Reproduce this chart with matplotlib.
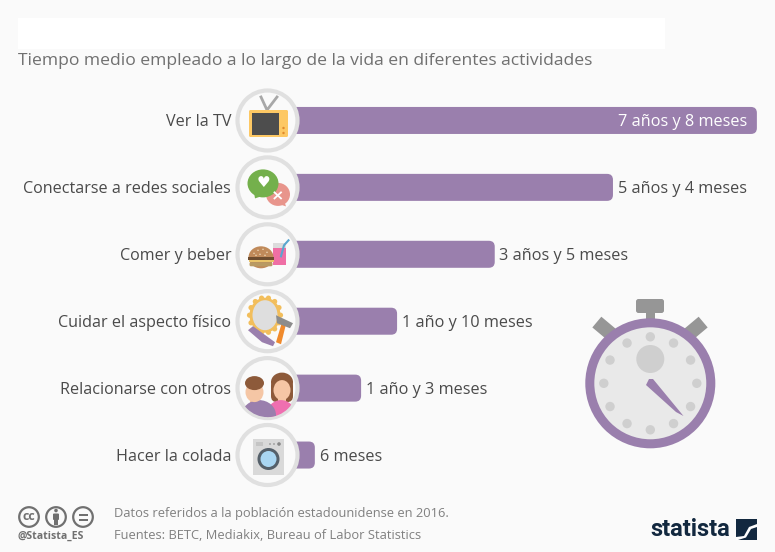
import matplotlib
matplotlib.use('Agg')
import matplotlib.pyplot as plt
from matplotlib.patches import Circle, Ellipse, FancyBboxPatch, Polygon, Rectangle
import numpy as np

plt.rcParams['font.family'] = ['Open Sans', 'DejaVu Sans']

# ========== datos ==========
categorias = ['Ver la TV', 'Conectarse a redes sociales', 'Comer y beber',
              'Cuidar el aspecto físico', 'Relacionarse con otros', 'Hacer la colada']
meses = [92, 64, 41, 22, 15, 6]
etiquetas = ['7 años y 8 meses', '5 años y 4 meses', '3 años y 5 meses',
             '1 año y 10 meses', '1 año y 3 meses', '6 meses']

subtitulo = 'Tiempo medio empleado a lo largo de la vida en diferentes actividades'
nota = 'Datos referidos a la población estadounidense en 2016.'
fuentes = 'Fuentes: BETC, Mediakix, Bureau of Labor Statistics'

FONDO = '#fafafa'
MORADO = '#9a7fad'
GRIS = '#969696'
TEXTO = '#4a4a4a'
W, H = 775, 552
PX_MES = 5.14
PX_FILA = 66.9

fig = plt.figure(figsize=(W / 100, H / 100), dpi=100, facecolor=FONDO)

# ========== barras ==========
ax = fig.add_axes([284 / W, 1 - 488.5 / H, (W - 284) / W, (488.5 - 87) / H], zorder=1)
ax.patch.set_visible(False)
ax.set_xlim(0, (W - 284) / PX_MES)
ax.set_ylim(5.5, -0.5)
for s in ax.spines.values():
    s.set_visible(False)
ax.set_xticks([])
ax.set_yticks(range(len(categorias)))
ax.set_yticklabels(categorias, fontsize=11.65, color=TEXTO)
ax.tick_params(axis='y', length=0, pad=38)

alto = 27 / PX_FILA
for i, (m, txt) in enumerate(zip(meses, etiquetas)):
    ax.add_patch(FancyBboxPatch((0, i - alto / 2), m, alto,
                                boxstyle='round,pad=0,rounding_size=1.15',
                                mutation_aspect=PX_MES / PX_FILA,
                                fc=MORADO, ec='none'))
    if i == 0:
        ax.annotate(txt, (m, i), xytext=(-7.2, 0), textcoords='offset points',
                    ha='right', va='center_baseline', fontsize=11.7, color='white')
    else:
        ax.annotate(txt, (m, i), xytext=(3.4, 0), textcoords='offset points',
                    ha='left', va='center_baseline', fontsize=11.7, color=TEXTO)

# ========== capa en pixeles para iconos y textos ==========
deco = fig.add_axes([0, 0, 1, 1], zorder=2)
deco.patch.set_visible(False)
deco.set_xlim(0, W)
deco.set_ylim(H, 0)
deco.axis('off')

deco.add_patch(Rectangle((18, 18), 647, 31, fc='white', ec='none'))
deco.text(18, 61, subtitulo, fontsize=12.57, color='#707070', va='center')
deco.text(114, 514, nota, fontsize=9.25, color='#808080', va='center')
deco.text(114, 535.5, fuentes, fontsize=9.25, color='#808080', va='center')
deco.text(50.5, 536, '@Statista_ES', fontsize=7.6, color='#707070', fontweight='bold',
          ha='center', va='center')


def elipse(x, y, rx, ry, color, clip=None, z=3):
    p = Ellipse((x, y), 2 * rx, 2 * ry, fc=color, ec='none', zorder=z)
    deco.add_patch(p)
    if clip is not None:
        p.set_clip_path(clip)
    return p


def rect(x0, y0, x1, y1, color, z=3, redondeo=0.0):
    if redondeo:
        p = FancyBboxPatch((x0, y0), x1 - x0, y1 - y0, fc=color, ec='none', zorder=z,
                           boxstyle=f'round,pad=0,rounding_size={redondeo}')
    else:
        p = Rectangle((x0, y0), x1 - x0, y1 - y0, fc=color, ec='none', zorder=z)
    deco.add_patch(p)
    return p


def poli(puntos, color, z=3):
    p = Polygon(puntos, closed=True, fc=color, ec='none', zorder=z)
    deco.add_patch(p)
    return p


# aros de los iconos
CX = 267.5
cy = [120.5 + PX_FILA * i for i in range(6)]
aros = []
for y in cy:
    deco.add_patch(Circle((CX, y), 30, fc=FONDO, ec='#e0e0e0', lw=3, zorder=2))
    aros.append(Circle((CX, y), 29, transform=deco.transData))

# TV
deco.plot([261, 267, 277], [97, 110, 97], color='#a8a8a8', lw=2, zorder=3)
rect(249, 110, 288, 137, '#fdc864', redondeo=1.5)
rect(252, 112.5, 279, 135, '#4d4d4d', z=4)
elipse(283.5, 128, 1.2, 1.2, '#e08a2c', z=4)
elipse(283.5, 133, 1.2, 1.2, '#e08a2c', z=4)

# redes sociales
y = cy[1]
poli([(283, y + 10), (286, y + 19), (274, y + 15)], '#e8958c')
elipse(278, y + 7, 12, 11.5, '#e8958c')
poli([(254, y + 5), (255, y + 11), (264, y + 8)], '#74b04c', z=4)
elipse(263, y - 4, 15.5, 14, '#74b04c', z=4)
deco.text(263, y - 5, '♥', color='white', fontsize=11, ha='center', va='center', zorder=5,
          family='DejaVu Sans')
deco.plot([274.5, 281], [y + 5, y + 11], color='white', lw=1.3, zorder=5)
deco.plot([274.5, 281], [y + 11, y + 5], color='white', lw=1.3, zorder=5)

# comida
y = cy[2]
rect(273, y - 7, 286, y + 11, '#ef6fa5')
rect(273, y - 11, 286, y - 6, '#dcdcdc')
deco.plot([281, 284, 288.5], [y + 2, y - 9, y - 14], color='#5aa6cf', lw=1.5, zorder=4)
elipse(261, y + 3, 12.5, 11, '#c08a5a', z=4)
rect(248, y + 3, 274, y + 6, '#6d4c2f', z=5)
rect(248.5, y + 6, 273.5, y + 8, '#e9c46a', z=5)
rect(249.5, y + 8, 272.5, y + 12, '#b89a63', z=5, redondeo=1.5)
for dx, dy in [(-7, -1), (-3, -4), (2, -5), (6, -2), (-1, 0), (4, 1), (-5, 1)]:
    elipse(261 + dx, y + dy, 0.7, 0.7, '#f3e3c3', z=5)

# espejo, navaja y cepillo
y = cy[3]
elipse(265, y - 6, 15.5, 17.5, '#f2be5c')
for k in range(14):
    a = 2 * np.pi * k / 14
    elipse(265 + 15.5 * np.cos(a), y - 6 + 17.5 * np.sin(a), 2.6, 2.6, '#f2be5c')
elipse(265, y - 6, 12.5, 15, '#dedede', z=4)
poli([(248, y + 9), (253, y + 5), (275, y + 21), (273, y + 25), (262, y + 21)], MORADO, z=4)
poli([(276, y + 21), (281, y + 23), (286, y + 3), (282, y + 1)], '#f08a2c', z=4)
poli([(276, y - 6), (293, y + 2), (290, y + 7), (277, y + 2)], '#8c8c8c', z=5)

# personas
y = cy[4]
clip = aros[4]
rect(271, y - 8, 293, y + 14, '#8d5a3a', redondeo=6).set_clip_path(clip)
elipse(282, y - 6, 11, 9.5, '#8d5a3a')
rect(278, y + 8, 286, y + 16, '#f5c6a5', z=3)
elipse(282, y + 2, 8.5, 10, '#f5c6a5', z=4)
elipse(281, y + 26, 14, 14, '#ef6fb0', clip=clip, z=4)
rect(250, y + 8, 259, y + 16, '#f5c6a5', z=4)
elipse(259, y + 27, 17, 15, MORADO, clip=clip, z=5)
elipse(254.5, y + 4, 9, 10, '#f5c6a5', z=5)
elipse(254.5, y - 5, 9.5, 7, '#8d5a3a', z=6)

# lavadora
y = cy[5]
rect(253, y - 16.5, 284, y + 20, '#d9d9d9')
rect(256, y - 13, 263, y - 9, '#c4c4c4', z=4)
for xp, r in [(270, 0.8), (274, 0.8), (279, 1.8)]:
    elipse(xp, y - 11, r, r, '#888888', z=4)
elipse(268.5, y + 4, 11, 11, '#55606a', z=4)
elipse(268.5, y + 4, 8, 8, '#a9d6f2', z=5)

# ========== cronometro ==========
cx, cr = 650.3, 383.3
rect(636, 299, 664, 313, GRIS, redondeo=2.5)
rect(646, 312, 655, 322, GRIS)
for sx, ang in [(604.5, 40), (695.5, -40)]:
    a = np.deg2rad(ang)
    ex, ey = np.array([np.cos(a), np.sin(a)]), np.array([-np.sin(a), np.cos(a)])
    c = np.array([sx, 328.5])
    poli([c + s1 * 10 * ex + s2 * 7 * ey for s1, s2 in [(-1, -1), (1, -1), (1, 1), (-1, 1)]], GRIS)
deco.add_patch(Circle((cx, cr), 60.5, fc='#e9e9e9', ec=MORADO, lw=6.5, zorder=4))
for k in range(12):
    a = np.deg2rad(30 * k)
    elipse(cx + 46.5 * np.sin(a), cr - 46.5 * np.cos(a), 4.7, 4.7, '#cfcfcf', z=5)
elipse(650.3, 359, 14, 14, '#cfcfcf', z=5)
poli([(646, 385), (649, 379), (653, 379), (683.5, 416), (676, 412)], MORADO, z=6)

# ========== licencia y logo ==========
for xc in (29, 56, 83):
    deco.add_patch(Circle((xc, 517), 9.8, fc='none', ec='#707070', lw=1.6, zorder=3))
deco.text(29, 516.5, 'cc', fontsize=9, fontweight='bold', color='#707070', ha='center', va='center')
elipse(56, 510.5, 1.8, 1.8, '#707070')
rect(53, 513.5, 59, 520, '#707070', redondeo=1)
rect(54.3, 519, 57.7, 525, '#707070')
rect(78.5, 513.5, 87.5, 515.5, '#707070')
rect(78.5, 518.5, 87.5, 520.5, '#707070')

AZUL = '#12283f'
deco.text(650.5, 530, 'statista', fontsize=17.1, fontweight='bold', color=AZUL, va='center',
          family=['Roboto', 'DejaVu Sans'], stretch='condensed')
rect(736, 519, 757, 540, AZUL)
poli([(736, 537), (744, 536), (749, 527), (757, 524), (757, 527), (751, 529), (746, 537.5), (738, 540), (736, 540)],
     'white', z=4)

fig.savefig('out.png', dpi=100, facecolor=FONDO)
